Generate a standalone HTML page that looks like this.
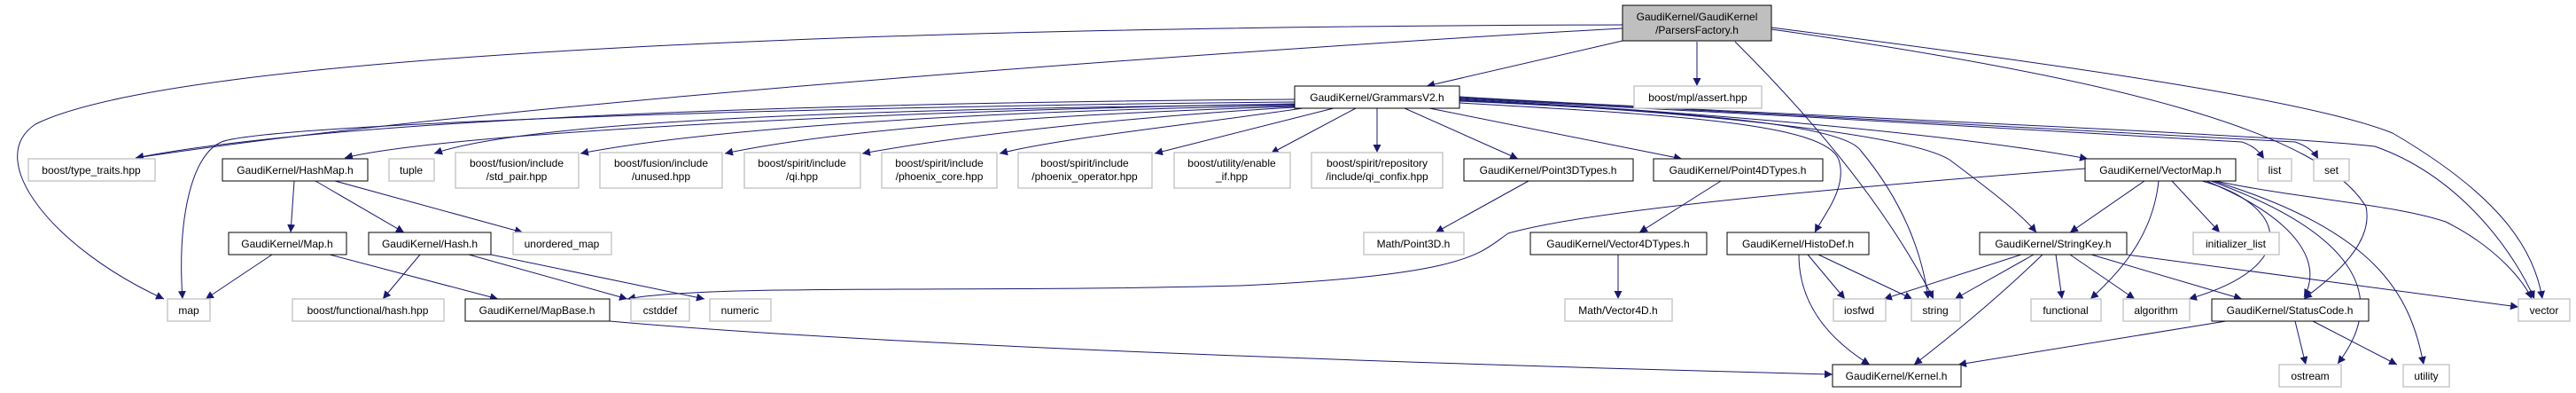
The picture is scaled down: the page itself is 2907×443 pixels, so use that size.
<!DOCTYPE html>
<html><head><meta charset="utf-8"><style>
html,body{margin:0;padding:0;background:#fff;}
svg{display:block;}
text{font-family:"Liberation Sans",sans-serif;font-size:12px;fill:#000;text-anchor:middle;}
.g{fill:#fff;stroke:#c8c8c8;stroke-width:1.5;}
.b{fill:#fff;stroke:#000;stroke-width:1;}
.e{fill:none;stroke:#191970;stroke-width:1;marker-end:url(#a);}
</style></head><body>
<svg width="2907" height="443" viewBox="0 0 2907 443" xmlns="http://www.w3.org/2000/svg">
<defs><marker id="a" viewBox="0 0 10 10" refX="10" refY="5" markerWidth="9" markerHeight="9" markerUnits="userSpaceOnUse" orient="auto"><path d="M0,0 L10,5 L0,10 z" fill="#191970"/></marker></defs>

<g>
<path class="e" d="M1831,46 L1610,97"/>
<path class="e" d="M1915,47 L1915,97"/>
<path class="e" d="M1958,47 Q2112,200 2182,337"/>
<path class="e" d="M1999,31 C2300,70 2600,110 2700,150 C2820,220 2860,280 2869,337"/>
<path class="e" d="M1999,33 C2400,90 2620,150 2670,233 C2680,280 2620,320 2600,337"/>
<path class="e" d="M1831,28 C1000,30 200,60 40,140 C-20,180 60,280 185,337"/>
<path class="e" d="M1831,32 C1500,50 600,110 153,178"/>
<path class="e" d="M1461,112 C1000,115 400,130 153,178"/>
<path class="e" d="M1461,115 C900,120 300,140 250,160 C215,175 200,250 206,337"/>
<path class="e" d="M1461,117 C1000,125 500,150 389,178"/>
<path class="e" d="M1461,118 C1000,122 600,135 490,173"/>
<path class="e" d="M1461,119 C1100,125 800,145 655,173"/>
<path class="e" d="M1461,120 C1200,128 950,145 818,173"/>
<path class="e" d="M1461,121 C1300,130 1100,150 973,173"/>
<path class="e" d="M1470,122 C1350,140 1200,155 1128,173"/>
<path class="e" d="M1505,122 L1303,173"/>
<path class="e" d="M1530,122 L1434,173"/>
<path class="e" d="M1554,122 L1554,172"/>
<path class="e" d="M1585,122 L1713,179"/>
<path class="e" d="M1613,122 L1898,179"/>
<path class="e" d="M1647,116 C1900,130 2060,140 2075,180 C2085,210 2060,240 2048,262"/>
<path class="e" d="M1647,114 C1900,125 2080,140 2100,170 C2150,230 2170,290 2176,337"/>
<path class="e" d="M1647,113 C1900,125 2150,150 2200,180 C2240,210 2280,240 2298,262"/>
<path class="e" d="M1647,112 C1900,125 2200,150 2356,179"/>
<path class="e" d="M1647,111 C1900,125 2400,150 2530,160 C2545,165 2550,172 2555,179"/>
<path class="e" d="M1647,110 C1900,125 2450,150 2590,160 C2605,165 2612,172 2616,179"/>
<path class="e" d="M1647,109 C1900,125 2550,150 2680,165 C2780,200 2840,290 2860,337"/>
<path class="e" d="M332,204 L328,262"/>
<path class="e" d="M356,204 L456,262"/>
<path class="e" d="M378,204 L590,262"/>
<path class="e" d="M307,287 L232,337"/>
<path class="e" d="M372,287 L562,337"/>
<path class="e" d="M474,287 L432,337"/>
<path class="e" d="M529,287 L708,337"/>
<path class="e" d="M554,287 L795,337"/>
<path class="e" d="M688,362 C1000,390 1600,410 2068,422"/>
<path class="e" d="M1725,204 L1620,262"/>
<path class="e" d="M1942,204 L1850,262"/>
<path class="e" d="M1826,287 L1826,337"/>
<path class="e" d="M2353,190 C2100,210 1800,235 1702,263 C1670,285 1660,310 1400,322 C1100,330 800,320 708,337"/>
<path class="e" d="M2420,204 L2336,262"/>
<path class="e" d="M2436,204 C2430,260 2400,300 2359,337"/>
<path class="e" d="M2451,204 L2505,262"/>
<path class="e" d="M2485,204 C2580,230 2600,300 2470,337"/>
<path class="e" d="M2490,204 C2600,250 2620,300 2600,335"/>
<path class="e" d="M2495,204 C2650,260 2700,330 2638,410"/>
<path class="e" d="M2498,204 C2680,260 2720,330 2735,411"/>
<path class="e" d="M2500,204 C2600,225 2700,230 2760,250 C2820,280 2850,320 2857,337"/>
<path class="e" d="M2281,287 L2126,337"/>
<path class="e" d="M2295,287 L2206,337"/>
<path class="e" d="M2305,287 C2250,340 2200,380 2160,411"/>
<path class="e" d="M2320,287 L2327,337"/>
<path class="e" d="M2336,287 L2409,337"/>
<path class="e" d="M2360,287 L2530,337"/>
<path class="e" d="M2400,287 L2842,346"/>
<path class="e" d="M2040,287 L2082,337"/>
<path class="e" d="M2052,287 L2158,337"/>
<path class="e" d="M2030,287 C2030,340 2060,380 2110,411"/>
<path class="e" d="M2512,362 L2210,411"/>
<path class="e" d="M2590,362 L2602,411"/>
<path class="e" d="M2610,362 L2705,411"/>
</g>

<rect x="1831" y="6" width="168" height="40" fill="#bfbfbf" stroke="#000"/>
<text x="1915" y="23">GaudiKernel/GaudiKernel</text><text x="1915" y="38">/ParsersFactory.h</text>

<rect class="b" x="1461" y="97" width="186" height="25"/><text x="1554" y="114">GaudiKernel/GrammarsV2.h</text>
<rect class="g" x="1844" y="97" width="144" height="25"/><text x="1916" y="114">boost/mpl/assert.hpp</text>

<rect class="g" x="32" y="179" width="143" height="25"/><text x="103" y="196">boost/type_traits.hpp</text>
<rect class="b" x="251" y="179" width="164" height="25"/><text x="333" y="196">GaudiKernel/HashMap.h</text>
<rect class="g" x="439" y="179" width="51" height="25"/><text x="464" y="196">tuple</text>
<rect class="g" x="514" y="172" width="139" height="40"/><text x="583" y="188">boost/fusion/include</text><text x="583" y="203">/std_pair.hpp</text>
<rect class="g" x="677" y="172" width="138" height="40"/><text x="746" y="188">boost/fusion/include</text><text x="746" y="203">/unused.hpp</text>
<rect class="g" x="840" y="172" width="131" height="40"/><text x="905" y="188">boost/spirit/include</text><text x="905" y="203">/qi.hpp</text>
<rect class="g" x="995" y="172" width="130" height="40"/><text x="1060" y="188">boost/spirit/include</text><text x="1060" y="203">/phoenix_core.hpp</text>
<rect class="g" x="1149" y="172" width="151" height="40"/><text x="1224" y="188">boost/spirit/include</text><text x="1224" y="203">/phoenix_operator.hpp</text>
<rect class="g" x="1325" y="172" width="131" height="40"/><text x="1390" y="188">boost/utility/enable</text><text x="1390" y="203">_if.hpp</text>
<rect class="g" x="1480" y="172" width="148" height="40"/><text x="1554" y="188">boost/spirit/repository</text><text x="1554" y="203">/include/qi_confix.hpp</text>
<rect class="b" x="1652" y="179" width="191" height="25"/><text x="1747" y="196">GaudiKernel/Point3DTypes.h</text>
<rect class="b" x="1866" y="179" width="191" height="25"/><text x="1961" y="196">GaudiKernel/Point4DTypes.h</text>
<rect class="b" x="2353" y="179" width="170" height="25"/><text x="2438" y="196">GaudiKernel/VectorMap.h</text>
<rect class="g" x="2548" y="179" width="38" height="25"/><text x="2567" y="196">list</text>
<rect class="g" x="2611" y="179" width="40" height="25"/><text x="2631" y="196">set</text>

<rect class="b" x="258" y="262" width="133" height="25"/><text x="324" y="279">GaudiKernel/Map.h</text>
<rect class="b" x="416" y="262" width="138" height="25"/><text x="485" y="279">GaudiKernel/Hash.h</text>
<rect class="g" x="579" y="262" width="111" height="25"/><text x="634" y="279">unordered_map</text>
<rect class="g" x="1539" y="262" width="113" height="25"/><text x="1595" y="279">Math/Point3D.h</text>
<rect class="b" x="1727" y="262" width="199" height="25"/><text x="1826" y="279">GaudiKernel/Vector4DTypes.h</text>
<rect class="b" x="1949" y="262" width="160" height="25"/><text x="2029" y="279">GaudiKernel/HistoDef.h</text>
<rect class="b" x="2234" y="262" width="166" height="25"/><text x="2317" y="279">GaudiKernel/StringKey.h</text>
<rect class="g" x="2475" y="262" width="97" height="25"/><text x="2523" y="279">initializer_list</text>

<rect class="g" x="189" y="337" width="48" height="25"/><text x="213" y="354">map</text>
<rect class="g" x="330" y="337" width="171" height="25"/><text x="415" y="354">boost/functional/hash.hpp</text>
<rect class="b" x="525" y="337" width="163" height="25"/><text x="606" y="354">GaudiKernel/MapBase.h</text>
<rect class="g" x="712" y="337" width="66" height="25"/><text x="745" y="354">cstddef</text>
<rect class="g" x="801" y="337" width="69" height="25"/><text x="835" y="354">numeric</text>
<rect class="g" x="1766" y="337" width="121" height="25"/><text x="1826" y="354">Math/Vector4D.h</text>
<rect class="g" x="2069" y="337" width="59" height="25"/><text x="2098" y="354">iosfwd</text>
<rect class="g" x="2157" y="337" width="55" height="25"/><text x="2184" y="354">string</text>
<rect class="g" x="2292" y="337" width="79" height="25"/><text x="2331" y="354">functional</text>
<rect class="g" x="2396" y="337" width="75" height="25"/><text x="2433" y="354">algorithm</text>
<rect class="b" x="2496" y="337" width="177" height="25"/><text x="2584" y="354">GaudiKernel/StatusCode.h</text>
<rect class="g" x="2842" y="337" width="58" height="25"/><text x="2871" y="354">vector</text>

<rect class="b" x="2068" y="411" width="145" height="25"/><text x="2140" y="428">GaudiKernel/Kernel.h</text>
<rect class="g" x="2572" y="411" width="70" height="25"/><text x="2607" y="428">ostream</text>
<rect class="g" x="2712" y="411" width="52" height="25"/><text x="2738" y="428">utility</text>
</svg>
</body></html>
